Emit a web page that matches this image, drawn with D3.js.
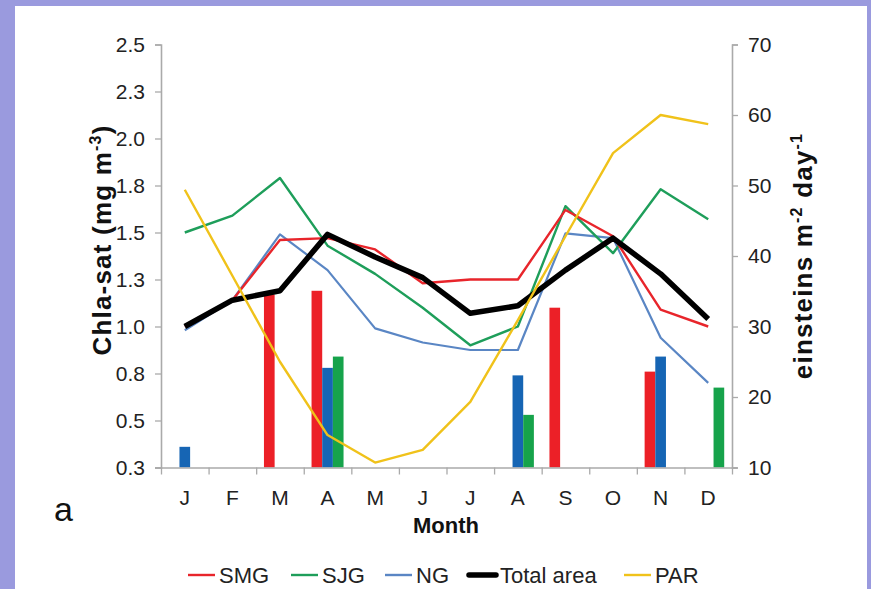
<!DOCTYPE html>
<html><head><meta charset="utf-8">
<script src="https://cdn.jsdelivr.net/npm/d3@7/dist/d3.min.js"></script>
<style>body{margin:0;background:#9a9ade;}svg{display:block;font-family:Arial,"Liberation Sans",sans-serif;}</style>
</head><body>
<svg id="c" width="871" height="589"></svg>
<script>
const months = ["J","F","M","A","M","J","J","A","S","O","N","D"];
const smg   = [1.00,1.14,1.46,1.47,1.41,1.23,1.25,1.25,1.62,1.48,1.09,1.00];
const sjg   = [1.50,1.59,1.79,1.43,1.28,1.10,0.90,1.00,1.64,1.39,1.73,1.57];
const ng    = [0.98,1.14,1.49,1.30,0.99,0.915,0.875,0.875,1.495,1.47,0.94,0.70];
const total = [1.00,1.14,1.19,1.49,1.37,1.26,1.07,1.11,1.30,1.47,1.28,1.04];
const par   = [49.4,37.2,25.0,14.6,10.7,12.5,19.3,30.9,42.8,54.6,60.0,58.7];
const smgBar = [null,null,1.17,1.19,null,null,null,null,1.10,null,0.76,null];
const ngBar  = [0.36,null,null,0.78,null,null,null,0.74,null,null,0.84,null];
const sjgBar = [null,null,null,0.84,null,null,null,0.53,null,null,null,0.675];
const leftTicks = [0.25,0.5,0.75,1.0,1.25,1.5,1.75,2.0,2.25,2.5];
const leftTickLabels = ["0.3","0.5","0.8","1.0","1.3","1.5","1.8","2.0","2.3","2.5"];
const rightTicks = [10,20,30,40,50,60,70];
const legendNames = ["SMG","SJG","NG","Total area","PAR"];

const C = {smg:"#e8252b", sjg:"#1e9e5a", ng:"#5a86c4", total:"#000000", par:"#f0c21a",
           smgBar:"#ec2027", ngBar:"#1665b4", sjgBar:"#16a34b"};

const svg = d3.select("#c");
svg.append("rect").attr("x",15).attr("y",6).attr("width",852).attr("height",590).attr("fill","#ffffff");

const L = 161, R = 732, T = 44.5, B = 467.5;
const x = d3.scaleBand().domain(d3.range(12)).range([L,R]).padding(0);
const yL = d3.scaleLinear().domain([0.25,2.5]).range([B,T]);
const yR = d3.scaleLinear().domain([10,70]).range([B,T]);
const inner = d3.scaleBand().domain(["smg","ng","sjg"]).range([-16,16]).padding(0);

// bars
const barSets = [["smg",smgBar,C.smgBar],["ng",ngBar,C.ngBar],["sjg",sjgBar,C.sjgBar]];
barSets.forEach(([k,arr,col])=>{
  svg.append("g").selectAll("rect").data(arr.map((v,i)=>({v,i})).filter(d=>d.v!=null))
    .join("rect")
    .attr("x",d=>x(d.i)+x.bandwidth()/2+inner(k))
    .attr("width",inner.bandwidth())
    .attr("y",d=>yL(d.v))
    .attr("height",d=>yL(0.25)-yL(d.v))
    .attr("fill",col);
});

// axes
const axCol = "#aaaaaa";
const gl = svg.append("g").attr("transform",`translate(${L},0)`)
  .call(d3.axisLeft(yL).tickValues(leftTicks).tickFormat((d,i)=>leftTickLabels[i]).tickSize(6).tickPadding(10));
const gr = svg.append("g").attr("transform",`translate(${R},0)`)
  .call(d3.axisRight(yR).tickValues(rightTicks).tickSize(6).tickPadding(10));
const xb = d3.scaleLinear().domain([0,12]).range([L,R]);
const gx = svg.append("g").attr("transform",`translate(0,${B})`)
  .call(d3.axisBottom(xb).tickValues(d3.range(13)).tickFormat("").tickSize(7).tickSizeOuter(0));
[gl,gr,gx].forEach(g=>{
  g.selectAll(".domain").attr("stroke",axCol).attr("stroke-width",1.6);
  g.selectAll(".tick line").attr("stroke",axCol).attr("stroke-width",1.3);
  g.selectAll("text").attr("fill","#222").attr("font-size",21).attr("font-family","Arial, Liberation Sans, sans-serif");
});
gx.select(".domain").attr("d",`M${L-6},0.5H${R+5}`);

// month labels
svg.append("g").selectAll("text").data(months).join("text")
  .attr("x",(d,i)=>x(i)+x.bandwidth()/2).attr("y",505).attr("text-anchor","middle")
  .attr("font-size",21).attr("fill","#222").text(d=>d);

// lines
const lineL = d3.line().x((d,i)=>x(i)+x.bandwidth()/2).y(d=>yL(d));
const lineR = d3.line().x((d,i)=>x(i)+x.bandwidth()/2).y(d=>yR(d));
[[ng,C.ng,2.2],[sjg,C.sjg,2.4],[smg,C.smg,2.4]].forEach(([arr,col,w])=>{
  svg.append("path").datum(arr).attr("d",lineL).attr("fill","none").attr("stroke",col).attr("stroke-width",w).attr("stroke-linejoin","round");
});
svg.append("path").datum(total).attr("d",lineL).attr("fill","none").attr("stroke",C.total).attr("stroke-width",5.5).attr("stroke-linejoin","round");
svg.append("path").datum(par).attr("d",lineR).attr("fill","none").attr("stroke",C.par).attr("stroke-width",2.4).attr("stroke-linejoin","round");

// titles
svg.append("text").attr("transform","translate(111,240) rotate(-90)").attr("text-anchor","middle")
  .attr("font-size",26).attr("font-weight","bold").attr("fill","#111").attr("letter-spacing",1.2)
  .html('Chla-sat (mg m<tspan dy="-10" font-size="16">-3</tspan><tspan dy="10">)</tspan>');
svg.append("text").attr("transform","translate(812,256) rotate(-90)").attr("text-anchor","middle")
  .attr("font-size",26).attr("font-weight","bold").attr("fill","#111").attr("letter-spacing",1.2)
  .html('einsteins m<tspan dy="-10" font-size="16">-2</tspan><tspan dy="10"> day</tspan><tspan dy="-10" font-size="16">-1</tspan>');
svg.append("text").attr("x",446).attr("y",533).attr("text-anchor","middle")
  .attr("font-size",22).attr("font-weight","bold").attr("fill","#111").text("Month");
svg.append("text").attr("x",54).attr("y",521).attr("font-size",34).attr("fill","#111").text("a");

// legend
const legCols = [C.smg,C.sjg,C.ng,C.total,C.par];
const legW = [2.4,2.4,2.4,5.5,2.4];
const legX = [188,291,385,469,624];
const legY = 583;
legendNames.forEach((n,i)=>{
  svg.append("line").attr("x1",legX[i]).attr("x2",legX[i]+27).attr("y1",legY-8).attr("y2",legY-8)
    .attr("stroke",legCols[i]).attr("stroke-width",legW[i]).attr("stroke-linecap",i===3?"round":"butt");
  svg.append("text").attr("x",legX[i]+31).attr("y",legY).attr("font-size",22).attr("fill","#222").text(n);
});
</script>
</body></html>
